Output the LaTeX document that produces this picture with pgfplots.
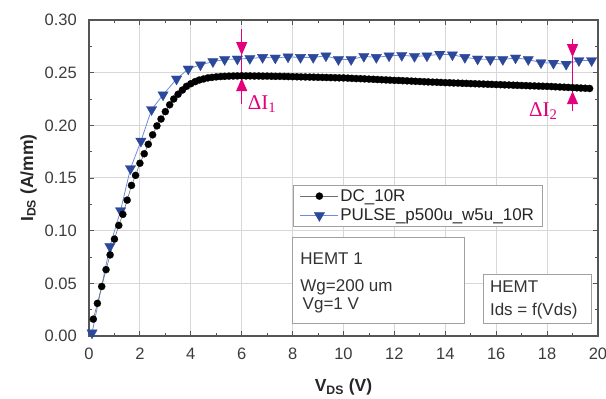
\documentclass[border=0pt]{standalone}
\usepackage{pgfplots}
\pgfplotsset{compat=1.18}
\usepackage{pgfplotstable}
\usepackage{fontspec}
\setmainfont{Liberation Sans}
\newfontfamily\serifF{Liberation Serif}
\usetikzlibrary{arrows.meta}
\definecolor{pulseblue}{RGB}{44,72,154}
\definecolor{pulseline}{RGB}{110,140,215}
\definecolor{dcline}{RGB}{110,110,110}
\definecolor{magC}{RGB}{228,0,124}
\definecolor{gridC}{RGB}{215,215,215}
\definecolor{axisC}{RGB}{85,85,85}
\definecolor{tickC}{RGB}{60,60,60}
\definecolor{boxC}{RGB}{160,160,160}

\pgfplotstableread{
x y
0.17 0.016
0.33 0.031
0.50 0.047
0.67 0.063
0.83 0.077
1.00 0.092
1.17 0.105
1.33 0.1155
1.50 0.129
1.67 0.143
1.83 0.1525
2.00 0.164
2.17 0.173
2.33 0.182
2.50 0.191
2.67 0.1995
2.83 0.206
3.00 0.213
3.17 0.2195
3.33 0.225
3.50 0.2295
3.67 0.2335
3.83 0.237
4.00 0.2395
4.17 0.2415
4.33 0.243
4.50 0.244
4.67 0.245
4.83 0.2455
5.00 0.246
5.17 0.2463
5.33 0.2465
5.50 0.2467
5.67 0.2468
5.83 0.2469
6.00 0.2470
6.17 0.2469
6.33 0.2469
6.50 0.2468
6.67 0.2468
6.83 0.2467
7.00 0.2467
7.17 0.2466
7.33 0.2465
7.50 0.2465
7.67 0.2464
7.83 0.2463
8.00 0.2462
8.17 0.2461
8.33 0.2460
8.50 0.2459
8.67 0.2458
8.83 0.2457
9.00 0.2456
9.17 0.2455
9.33 0.2454
9.50 0.2453
9.67 0.2452
9.83 0.2451
10.00 0.2450
10.17 0.2448
10.33 0.2446
10.50 0.2444
10.67 0.2443
10.83 0.2441
11.00 0.2439
11.17 0.2437
11.33 0.2435
11.50 0.2433
11.67 0.2431
11.83 0.2429
12.00 0.2427
12.17 0.2426
12.33 0.2424
12.50 0.2422
12.67 0.2420
12.83 0.2418
13.00 0.2416
13.17 0.2414
13.33 0.2412
13.50 0.2410
13.67 0.2409
13.83 0.2407
14.00 0.2405
14.17 0.2404
14.33 0.2402
14.50 0.2401
14.67 0.2399
14.83 0.2398
15.00 0.2396
15.17 0.2395
15.33 0.2393
15.50 0.2392
15.67 0.2390
15.83 0.2389
16.00 0.2387
16.17 0.2386
16.33 0.2384
16.50 0.2383
16.67 0.2381
16.83 0.2380
17.00 0.2378
17.17 0.2377
17.33 0.2375
17.50 0.2374
17.67 0.2372
17.83 0.2371
18.00 0.2370
18.17 0.2368
18.33 0.2366
18.50 0.2364
18.67 0.2362
18.83 0.2360
19.00 0.2358
19.17 0.2356
19.33 0.2354
19.50 0.2352
19.67 0.2350
}\dctable

\pgfplotstableread{
x y
0.12 0.003
0.82 0.085
1.24 0.119
1.63 0.159
2.04 0.185
2.46 0.215
2.91 0.229
3.44 0.244
3.90 0.2535
4.38 0.2575
4.87 0.2605
5.33 0.2625
5.83 0.2630
6.32 0.2635
6.82 0.2645
7.32 0.2640
7.82 0.2650
8.31 0.2645
8.81 0.2645
9.31 0.2660
9.80 0.2625
10.30 0.2625
10.80 0.2655
11.29 0.2645
11.79 0.2660
12.29 0.2665
12.79 0.2655
13.28 0.2660
13.78 0.2675
14.28 0.2670
14.77 0.2645
15.27 0.2630
15.77 0.2625
16.26 0.2625
16.76 0.2640
17.26 0.2625
17.76 0.2595
18.25 0.2590
18.75 0.2580
19.25 0.2615
19.75 0.2615
}\pulsetable

\begin{document}
\begin{tikzpicture}
\begin{axis}[
  scale only axis, width=509pt, height=316pt,
  xmin=0, xmax=20, ymin=0, ymax=0.30,
  xtick={0,2,...,20}, ytick={0,0.05,0.10,0.15,0.20,0.25,0.30},
  minor x tick num=1, minor y tick num=1,
  scaled y ticks=false,
  tick align=inside, major tick length=5pt, minor tick length=3pt,
  tick style={axisC, line width=0.8pt},
  grid=major, major grid style={gridC, line width=1pt},
  axis line style={axisC, line width=1.2pt},
  clip=false,
  /pgf/number format/assume math mode=true,
  y tick label style={/pgf/number format/.cd, fixed, fixed zerofill, precision=2, /tikz/.cd},
  yticklabel style={anchor=east, inner sep=0pt, xshift=-12pt, text=tickC, font=\fontsize{16.5}{19}\selectfont},
  xticklabel style={anchor=north, inner sep=0pt, yshift=-12pt, text=tickC, font=\fontsize{16.5}{19}\selectfont},
  xlabel={\textbf{V\textsubscript{DS} (V)}},
  ylabel={\textbf{I\textsubscript{DS} (A/mm)}},
  xlabel style={at={(axis description cs:0.5,-0.136)}, anchor=north, inner sep=0pt, font=\fontsize{17.5}{20}\selectfont, text=black!85},
  ylabel style={at={(axis description cs:-0.1022,0.5)}, anchor=south, inner sep=0pt, font=\fontsize{17.5}{20}\selectfont, text=black!85},
  reverse legend,
  legend cell align=left,
  legend image code/.code={\draw[mark repeat=2,mark phase=2,#1] plot coordinates {(0pt,0pt) (19pt,0pt) (38pt,0pt)};},
  legend style={at={(axis cs:8,0.1438)}, anchor=north west, draw=boxC, line width=0.8pt, fill=white,
    font=\fontsize{17}{20}\selectfont, text=black!85, inner xsep=7pt, inner ysep=3pt, row sep=3pt,
    nodes={inner sep=1.5pt}},
]
\addplot[color=pulseline, line width=0.8pt, mark=triangle*, mark size=6pt,
  mark options={rotate=180, fill=pulseblue, draw=pulseblue, line width=0.3pt}] table[x=x,y=y] {\pulsetable};
\addlegendentry{PULSE\_p500u\_w5u\_10R}
\addplot[color=dcline, line width=0.6pt, mark=*, mark size=3.6pt,
  mark options={fill=black, draw=black, line width=0.2pt}] table[x=x,y=y] {\dctable};
\addlegendentry{DC\_10R}

% Delta I annotations
\draw[magC, line width=1.2pt] (axis cs:6,0.2914) -- (axis cs:6,0.22);
\draw[magC, line width=1.2pt, -{Triangle[length=13pt,width=11pt]}] (axis cs:6,0.2914) -- (axis cs:6,0.2667);
\draw[magC, line width=1.2pt, -{Triangle[length=13pt,width=11pt]}] (axis cs:6,0.22) -- (axis cs:6,0.2448);
\node[anchor=base west, inner sep=0pt, text=magC, font=\serifF\fontsize{21}{24}\selectfont] at (axis cs:6.235,0.2152) {ΔI\textsubscript{1}};

\draw[magC, line width=1.2pt] (axis cs:19,0.282) -- (axis cs:19,0.2133);
\draw[magC, line width=1.2pt, -{Triangle[length=13pt,width=11pt]}] (axis cs:19,0.282) -- (axis cs:19,0.2648);
\draw[magC, line width=1.2pt, -{Triangle[length=13pt,width=11pt]}] (axis cs:19,0.2133) -- (axis cs:19,0.2324);
\node[anchor=base west, inner sep=0pt, text=magC, font=\serifF\fontsize{21}{24}\selectfont] at (axis cs:17.29,0.2086) {ΔI\textsubscript{2}};

% text boxes
\draw[boxC, line width=0.8pt, fill=white] (axis cs:8.0,0.0933) rectangle (axis cs:14.745,0.012);
\draw[boxC, line width=0.8pt, fill=white] (axis cs:15.49,0.0581) rectangle (axis cs:19.73,0.012);
\node[anchor=base west, inner sep=0pt, text=black!80, font=\fontsize{17}{20}\selectfont] at (axis cs:8.30,0.0676) {HEMT 1};
\node[anchor=base west, inner sep=0pt, text=black!80, font=\fontsize{17}{20}\selectfont] at (axis cs:8.30,0.0419) {Wg=200 um};
\node[anchor=base west, inner sep=0pt, text=black!80, font=\fontsize{17}{20}\selectfont] at (axis cs:8.39,0.0248) {Vg=1 V};
\node[anchor=base west, inner sep=0pt, text=black!80, font=\fontsize{17}{20}\selectfont] at (axis cs:15.75,0.041) {HEMT};
\node[anchor=base west, inner sep=0pt, text=black!80, font=\fontsize{17}{20}\selectfont] at (axis cs:15.75,0.0195) {Ids = f(Vds)};
\end{axis}
\pgfresetboundingbox
\path ([shift={(-89pt,-63pt)}]current axis.south west) rectangle ([shift={(8pt,20pt)}]current axis.north east);
\end{tikzpicture}
\end{document}
